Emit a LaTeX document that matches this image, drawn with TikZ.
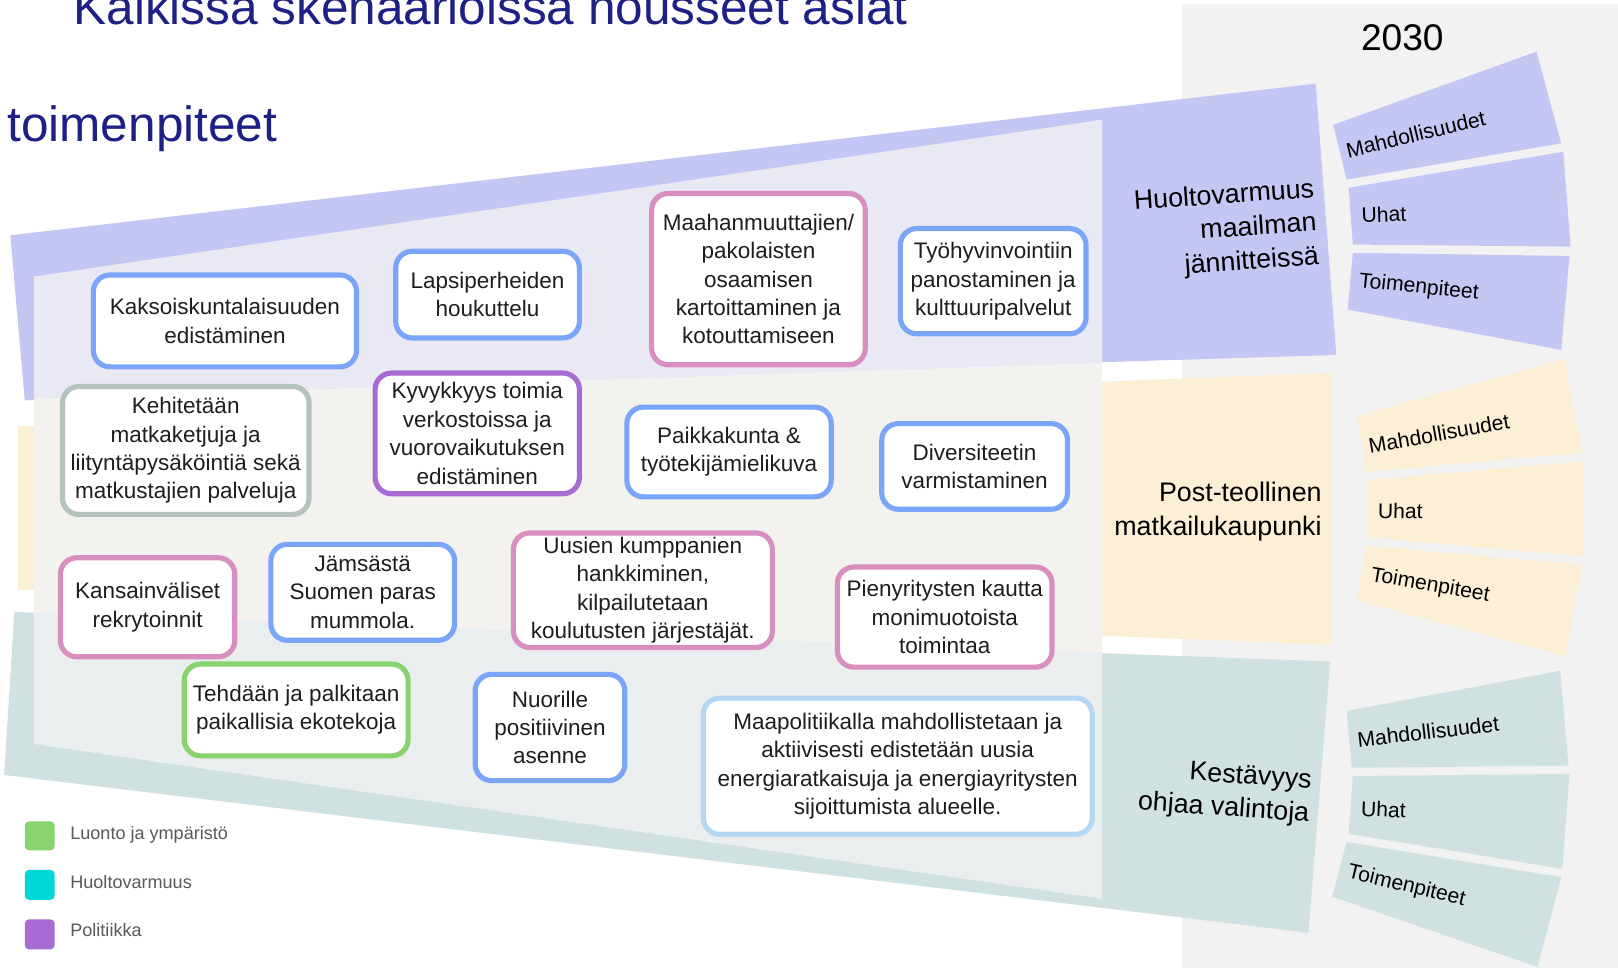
\documentclass[tikz,border=0pt]{standalone}
\usepackage{fontspec}
\setmainfont{Liberation Sans}
\definecolor{navy}{HTML}{1E2086}
\definecolor{bandblue}{HTML}{C4C7F4}
\definecolor{bandyel}{HTML}{FDEFD6}
\definecolor{bandteal}{HTML}{CFE1E0}
\definecolor{inblue}{HTML}{E9E9F3}
\definecolor{inyel}{HTML}{F3F2EF}
\definecolor{inteal}{HTML}{EBEEEE}
\definecolor{panel}{HTML}{F2F2F2}
\definecolor{cblue}{HTML}{7BA5F9}
\definecolor{cpink}{HTML}{D88FC0}
\definecolor{cgray}{HTML}{B5C3BF}
\definecolor{cpurple}{HTML}{A86BD4}
\definecolor{cgreen}{HTML}{88D26F}
\definecolor{clight}{HTML}{B6D7F3}
\definecolor{ccyan}{HTML}{00D8D8}
\definecolor{txt}{HTML}{1E1E1E}
\definecolor{legtxt}{HTML}{595959}
\begin{document}
\begin{tikzpicture}[x=1pt,y=-1pt,
  box/.style={draw, line width=5pt, rounded corners=16pt, fill=white, align=center,
    inner sep=0pt, font=\fontsize{21.8}{27.5}\selectfont, text=txt},
  tile/.style={font=\fontsize{20.5}{24}\selectfont, inner sep=0pt, text=black},
  blk/.style={font=\fontsize{26}{32.5}\selectfont, inner sep=0pt, align=right, text=black},
  legsq/.style={rounded corners=4pt},
  legt/.style={font=\fontsize{17.5}{21}\selectfont, text=legtxt, anchor=base west, inner sep=0pt}]
\useasboundingbox (0,0) rectangle (1568,938);
\clip (0,0) rectangle (1568,938);
\fill[white] (0,0) rectangle (1568,938);
% right gray panel
\fill[panel] (1145,4) rectangle (1568,938);
% bands
\fill[bandblue] (10,228) -- (1275,81) -- (1295,344) -- (1068,351) -- (24,388) -- cycle;
\fill[bandyel] (17,413) rectangle (33,572);
\fill[bandyel] (1068,370) -- (1290,361) -- (1290,625) -- (1068,616) -- cycle;
\fill[bandteal] (14,593) -- (1068,633) -- (1289,641) -- (1268,904) -- (4,751) -- cycle;
% inner panels
\fill[inblue] (33,268) -- (1068,116) -- (1068,352) -- (33,386) -- cycle;
\fill[inyel] (33,386) -- (1068,352) -- (1068,632) -- (33,594) -- cycle;
\fill[inteal] (33,594) -- (1068,632) -- (1068,871) -- (33,721) -- cycle;
% tiles blue
\fill[bandblue] (1292,121) -- (1489,50) -- (1513,139) -- (1305,174) -- cycle;
\fill[bandblue] (1307,182) -- (1515,147) -- (1522,239) -- (1311,237) -- cycle;
\fill[bandblue] (1311,245) -- (1521,248) -- (1513,339) -- (1306,300) -- cycle;
% tiles yellow
\fill[bandyel] (1315,403) -- (1516,348) -- (1533,439) -- (1324,457) -- cycle;
\fill[bandyel] (1325,465) -- (1535,447) -- (1535,539) -- (1326,521) -- cycle;
\fill[bandyel] (1324,529) -- (1533,547) -- (1517,636) -- (1315,582) -- cycle;
% tiles teal
\fill[bandteal] (1305,689) -- (1512,650) -- (1520,742) -- (1310,744) -- cycle;
\fill[bandteal] (1311,752) -- (1521,750) -- (1514,842) -- (1307,808) -- cycle;
\fill[bandteal] (1305,816) -- (1513,850) -- (1490,937) -- (1291,869) -- cycle;
% tile labels
\node[tile, rotate=13.5] (bm) at (1372,130) {Mahdollisuudet};
\node[tile, rotate=2, anchor=base west] (bu) at (1319.5,216) {Uhat};
\node[tile, rotate=-6] (bt) at (1375,279) {Toimenpiteet};
\node[tile, rotate=10] (ym) at (1394.5,420) {Mahdollisuudet};
\node[tile, rotate=-1, anchor=base west] (yu) at (1335,502) {Uhat};
\node[tile, rotate=-10] (yt) at (1386,568) {Toimenpiteet};
\node[tile, rotate=6.5] (tm) at (1384,709) {Mahdollisuudet};
\node[tile, rotate=-2, anchor=base west] (tu) at (1318.5,791) {Uhat};
\node[tile, rotate=-13.5] (tt) at (1363,859) {Toimenpiteet};
% block labels
\node[blk, rotate=4, anchor=east] (hv) at (1276,217) {Huoltovarmuus\\maailman\\jännitteissä};
\node[blk, anchor=east] (pt) at (1281,496) {Post-teollinen\\matkailukaupunki};
\node[blk, rotate=-4, anchor=east] (ks) at (1270,774) {Kestävyys\\ohjaa valintoja};
% titles
\node[font=\fontsize{36}{40}\selectfont, inner sep=0pt] (yr) at (1359,37) {2030};
\node[font=\fontsize{48}{56}\selectfont, text=navy, anchor=base west, inner sep=0pt] (title) at (71,24) {Kaikissa skenaarioissa nousseet asiat};
\node[font=\fontsize{48}{56}\selectfont, text=navy, anchor=base west, inner sep=0pt] (sub) at (7,137) {toimenpiteet};
% boxes
\node[box, draw=cblue, minimum width=255pt, minimum height=89pt] (b1) at (218,311) {Kaksoiskuntalaisuuden\\edistäminen};
\node[box, draw=cblue, minimum width=178pt, minimum height=84pt] (b2) at (472.5,285.5) {Lapsiperheiden\\houkuttelu};
\node[box, draw=cpink, minimum width=207pt, minimum height=166pt] (b3) at (735,270.5) {Maahanmuuttajien/\\pakolaisten\\osaamisen\\kartoittaminen ja\\kotouttamiseen};
\node[box, draw=cblue, minimum width=180pt, minimum height=102pt] (b4) at (962.5,272.5) {Työhyvinvointiin\\panostaminen ja\\kulttuuripalvelut};
\node[box, draw=cgray, minimum width=239pt, minimum height=124pt] (b5) at (180,436.5) {Kehitetään\\matkaketjuja ja\\liityntäpysäköintiä sekä\\matkustajien palveluja};
\node[box, draw=cpurple, minimum width=198pt, minimum height=117pt] (b6) at (462.5,420) {Kyvykkyys toimia\\verkostoissa ja\\vuorovaikutuksen\\edistäminen};
\node[box, draw=cblue, minimum width=198pt, minimum height=87pt] (b7) at (706.5,438) {Paikkakunta \&\\työtekijämielikuva};
\node[box, draw=cblue, minimum width=180pt, minimum height=83pt] (b8) at (944.5,452) {Diversiteetin\\varmistaminen};
\node[box, draw=cpink, minimum width=169pt, minimum height=96pt] (b9) at (143,588.5) {Kansainväliset\\rekrytoinnit};
\node[box, draw=cblue, minimum width=178pt, minimum height=93pt] (b10) at (351.5,574) {Jämsästä\\Suomen paras\\mummola.};
\node[box, draw=cpink, minimum width=251pt, minimum height=111pt] (b11) at (623,572) {Uusien kumppanien\\hankkiminen,\\kilpailutetaan\\koulutusten järjestäjät.};
\node[box, draw=cpink, minimum width=208pt, minimum height=97pt] (b12) at (915.5,598) {Pienyritysten kautta\\monimuotoista\\toimintaa};
\node[box, draw=cgreen, minimum width=217pt, minimum height=89pt] (b13) at (287,688) {Tehdään ja palkitaan\\paikallisia ekotekoja};
\node[box, draw=cblue, minimum width=145pt, minimum height=103pt] (b14) at (533,705) {Nuorille\\positiivinen\\asenne};
\node[box, draw=clight, minimum width=377pt, minimum height=132pt] (b15) at (870,742.5) {Maapolitiikalla mahdollistetaan ja\\aktiivisesti edistetään uusia\\energiaratkaisuja ja energiayritysten\\sijoittumista alueelle.};
% legend
\fill[cgreen, legsq] (24,796) rectangle (53,824);
\fill[ccyan, legsq] (24,843) rectangle (53,872);
\fill[cpurple, legsq] (24,891) rectangle (53,920);
\node[legt] (l1) at (68,814) {Luonto ja ympäristö};
\node[legt] (l2) at (68,861) {Huoltovarmuus};
\node[legt] (l3) at (68,908) {Politiikka};
\end{tikzpicture}
\end{document}
